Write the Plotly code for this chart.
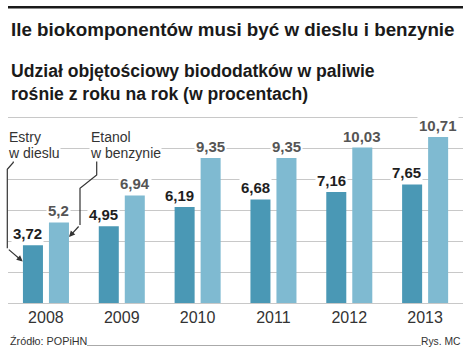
import plotly.graph_objects as go

years = ["2008", "2009", "2010", "2011", "2012", "2013"]
estry = [3.72, 4.95, 6.19, 6.68, 7.16, 7.65]
etanol = [5.2, 6.94, 9.35, 9.35, 10.03, 10.71]
estry_lbl = ["3,72", "4,95", "6,19", "6,68", "7,16", "7,65"]
etanol_lbl = ["5,2", "6,94", "9,35", "9,35", "10,03", "10,71"]

W, H = 475, 360
L, R, T, B = 8, 12, 115, 57
PW = W - L - R
PH = H - T - B
DARK = "#4a98b5"
LIGHT = "#7fbad1"
FONT = "Liberation Sans, Arial, sans-serif"

def xp(px):
    return (px - L) / PW

def yp(py):
    return (H - B - py) / PH

xs = list(range(len(years)))
bw = 0.264

fig = go.Figure()
fig.add_bar(x=xs, y=estry, width=bw, offset=-0.303, marker_color=DARK,
            marker_line_width=0, hoverinfo="skip")
fig.add_bar(x=xs, y=etanol, width=bw, offset=0.04, marker_color=LIGHT,
            marker_line_width=0, hoverinfo="skip")

ann = []
for i in xs:
    ann.append(dict(x=i - 0.022, y=estry[i], xref="x", yref="y", text=estry_lbl[i],
                    showarrow=False, xanchor="right", yanchor="bottom", yshift=1,
                    bgcolor="white", borderpad=1,
                    font=dict(family=FONT, size=15, color="#1e1e1e", weight="bold")))
    ann.append(dict(x=i + 0.171, y=etanol[i], xref="x", yref="y", text=etanol_lbl[i],
                    showarrow=False, xanchor="center", yanchor="bottom", yshift=1,
                    bgcolor="white", borderpad=1,
                    font=dict(family=FONT, size=15, color="#555555", weight="bold")))

# titles
ann.append(dict(x=xp(9), y=yp(29), xref="paper", yref="paper", xanchor="left", yanchor="middle",
                text="Ile biokomponentów musi być w dieslu i benzynie", showarrow=False,
                font=dict(family=FONT, size=18.8, color="#1a1a1a", weight="bold")))
ann.append(dict(x=xp(9), y=yp(71), xref="paper", yref="paper", xanchor="left", yanchor="middle",
                text="Udział objętościowy biododatków w paliwie", showarrow=False,
                font=dict(family=FONT, size=17.6, color="#1a1a1a", weight="bold")))
ann.append(dict(x=xp(9), y=yp(94), xref="paper", yref="paper", xanchor="left", yanchor="middle",
                text="rośnie z roku na rok (w procentach)", showarrow=False,
                font=dict(family=FONT, size=17.6, color="#1a1a1a", weight="bold")))

# series labels: second lines carry a white background to break the gridline
for txt, px, py in [("w dieslu", 7, 152.5), ("w benzynie", 89, 152.5)]:
    ann.append(dict(x=xp(px), y=yp(py), xref="paper", yref="paper", xanchor="left", yanchor="middle",
                    text=txt, showarrow=False, bgcolor="white", borderpad=0,
                    font=dict(family=FONT, size=14, color="#333333")))
for txt, px, py in [("Estry", 7, 136.5), ("Etanol", 89, 136.5)]:
    ann.append(dict(x=xp(px), y=yp(py), xref="paper", yref="paper", xanchor="left", yanchor="middle",
                    text=txt, showarrow=False,
                    font=dict(family=FONT, size=14, color="#333333")))

# arrow heads (final segments)
ann.append(dict(x=xp(22.7), y=yp(261.5), xref="paper", yref="paper", ax=-15.4, ay=-13.2,
                axref="pixel", ayref="pixel", text="", showarrow=True, arrowhead=2,
                arrowsize=1, arrowwidth=1.2, arrowcolor="#333333", standoff=0))
ann.append(dict(x=xp(69), y=yp(237), xref="paper", yref="paper", ax=11, ay=-12,
                axref="pixel", ayref="pixel", text="", showarrow=True, arrowhead=2,
                arrowsize=1, arrowwidth=1.2, arrowcolor="#333333", standoff=0))

# footer
ann.append(dict(x=xp(8), y=yp(341), xref="paper", yref="paper", xanchor="left", yanchor="middle",
                text="Źródło: POPiHN", showarrow=False,
                font=dict(family=FONT, size=10.8, color="#333333")))
ann.append(dict(x=xp(463), y=yp(341), xref="paper", yref="paper", xanchor="right", yanchor="middle",
                text="Rys. MC", showarrow=False,
                font=dict(family=FONT, size=10.3, color="#333333")))

def path(points):
    return "M " + " L ".join(f"{xp(a):.5f},{yp(b):.5f}" for a, b in points)

shapes = [
    dict(type="line", xref="paper", yref="paper", x0=xp(8), x1=xp(463), y0=yp(7.2), y1=yp(7.2),
         line=dict(color="#1a1a1a", width=2.5)),
    dict(type="line", xref="paper", yref="paper", x0=xp(87), x1=xp(421), y0=yp(345.5), y1=yp(345.5),
         line=dict(color="#aaaaaa", width=1)),
    dict(type="path", xref="paper", yref="paper",
         path=path([(13.3, 159), (13.3, 162.5), (7.3, 169.3), (7.3, 248.3)]),
         line=dict(color="#333333", width=1.2)),
    dict(type="path", xref="paper", yref="paper",
         path=path([(96.7, 159), (96.7, 175), (80, 188.3), (80, 225)]),
         line=dict(color="#333333", width=1.2)),
]

fig.update_layout(
    width=W, height=H, margin=dict(l=L, r=R, t=T, b=B),
    paper_bgcolor="white", plot_bgcolor="white",
    barmode="overlay", showlegend=False,
    annotations=ann, shapes=shapes,
    xaxis=dict(range=[-0.5, 5.5], tickvals=xs, ticktext=years, showgrid=False,
               zeroline=False, showline=True, linecolor="#c8c8c8", linewidth=1,
               ticks="", tickfont=dict(family=FONT, size=16, color="#333333"), fixedrange=True),
    yaxis=dict(range=[0, 12.13], tickvals=[0, 2, 4, 6, 8, 10, 12], showticklabels=False,
               showgrid=True, gridcolor="#c8c8c8", gridwidth=1, zeroline=False, fixedrange=True),
)

fig.write_html("out.html", config={"displayModeBar": False},
               post_script="document.body.style.margin='0';document.body.style.overflow='hidden';")
